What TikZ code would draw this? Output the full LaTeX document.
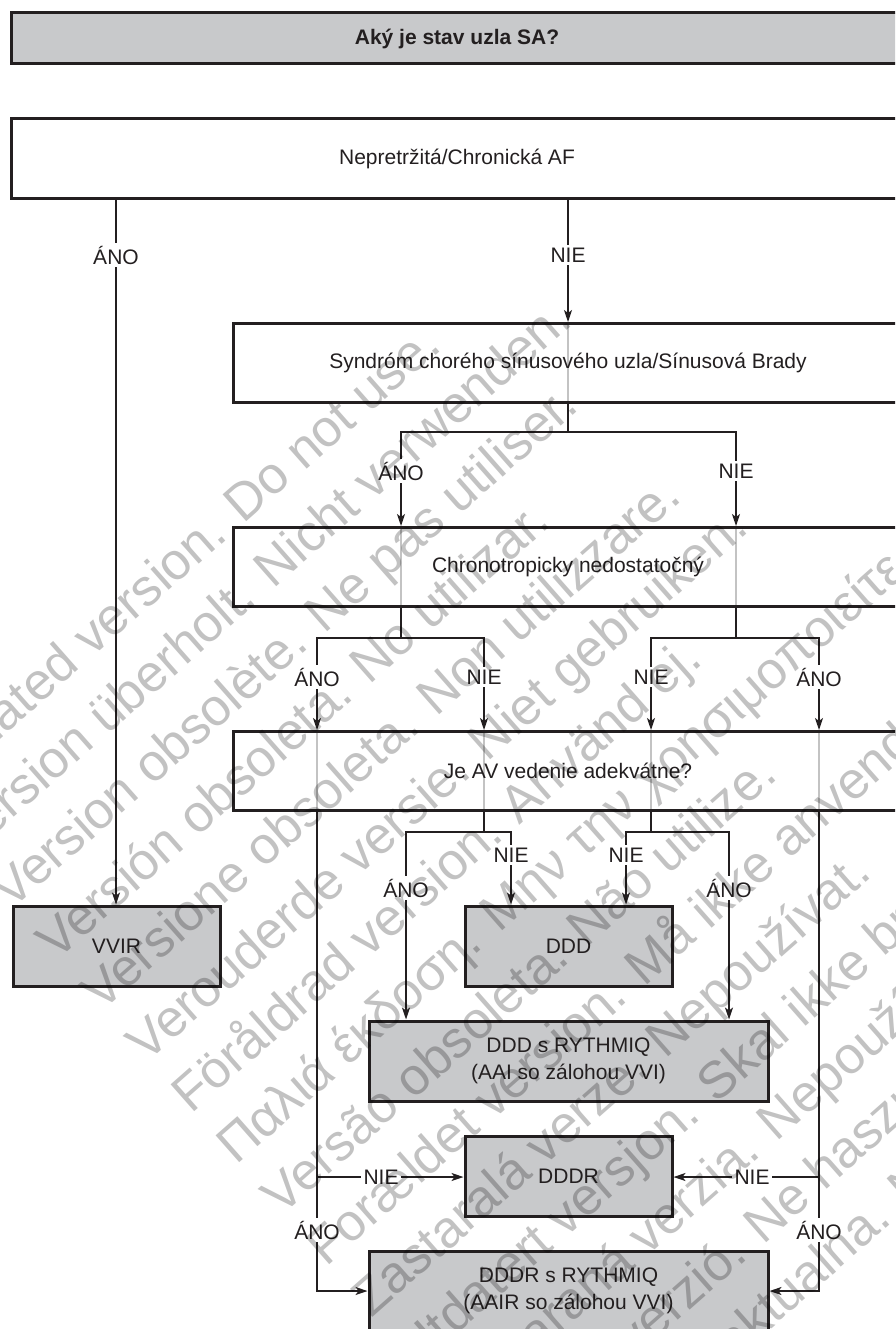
\documentclass[tikz,border=0pt]{standalone}
\usepackage{fontspec}
\setmainfont{Liberation Sans}
\usetikzlibrary{arrows.meta,backgrounds}
\definecolor{boxgray}{RGB}{200,201,203}
\definecolor{ink}{RGB}{35,31,32}
\definecolor{thrugray}{RGB}{195,195,195}
\begin{document}
\begin{tikzpicture}[x=1pt,y=-1pt,
  box/.style={draw=ink,line width=3pt,rectangle,inner sep=0pt,font=\fontsize{21}{27}\selectfont,text=ink,align=center},
  graybox/.style={box,fill=boxgray},
  conn/.style={draw=ink,line width=1.3pt},
  arr/.style={conn,-{Stealth[length=12pt,width=8pt,inset=3pt]}},
  lbl/.style={fill=white,inner sep=2.5pt,font=\fontsize{21}{27}\selectfont,text=ink},
  thru/.style={draw=thrugray,line width=1.2pt},
  wmark/.style={rotate=41.4,anchor=base west,inner sep=0pt,text=black,text opacity=0.24,font=\fontsize{52}{68}\selectfont}]
\useasboundingbox (0,0) rectangle (895,1329);
\clip (0,0) rectangle (895,1329);

% boxes
\node[graybox,minimum width=891pt,minimum height=51pt,font=\fontsize{21}{27}\selectfont\bfseries] (top) at (457,38.5) {Aký je stav uzla SA?};
\node[box,minimum width=891pt,minimum height=80pt] (af) at (457,159) {Nepretržitá/Chronická AF};
\node[box,minimum width=670pt,minimum height=79pt] (syn) at (568,363) {Syndróm chorého sínusového uzla/Sínusová Brady};
\node[box,minimum width=670pt,minimum height=79pt] (chr) at (568,567) {Chronotropicky nedostatočný};
\node[box,minimum width=670pt,minimum height=79pt] (jeav) at (568,771) {Je AV vedenie adekvátne?};
\node[graybox,minimum width=207pt,minimum height=80pt] (vvir) at (116.5,946) {VVIR};
\node[graybox,minimum width=207pt,minimum height=80pt] (ddd) at (568.5,946) {DDD};
\node[graybox,minimum width=399pt,minimum height=80pt] (ddds) at (568.5,1061) {DDD s RYTHMIQ\\(AAI so zálohou VVI)};
\node[graybox,minimum width=207pt,minimum height=80pt] (dddr) at (568.5,1176) {DDDR};
\node[graybox,minimum width=399pt,minimum height=80pt] (dddrs) at (568.5,1291) {DDDR s RYTHMIQ\\(AAIR so zálohou VVI)};

% junction coordinates
\coordinate (j1) at (568,432);
\coordinate (c1) at (401,432);
\coordinate (c2) at (736,432);
\coordinate (j2) at (401,638);
\coordinate (c3) at (317,638);
\coordinate (c4) at (484,638);
\coordinate (j3) at (736,638);
\coordinate (c5) at (651,638);
\coordinate (c6) at (819,638);
\coordinate (j4) at (484,832);
\coordinate (c7) at (406,832);
\coordinate (c8) at (511,832);
\coordinate (j5) at (651,832);
\coordinate (c9) at (626,832);
\coordinate (c10) at (729,832);
\coordinate (c11) at (317,1291);
\coordinate (c12) at (317,1177);
\coordinate (c13) at (819,1291);
\coordinate (c14) at (819,1177);

% lines seen through the white boxes
\begin{scope}[on background layer]
\draw[thru] (syn.north) -- (syn.south);
\draw[thru] (c1 |- chr.north) -- (c1 |- chr.south);
\draw[thru] (c2 |- chr.north) -- (c2 |- chr.south);
\draw[thru] (c3 |- jeav.north) -- (c3 |- jeav.south);
\draw[thru] (c4 |- jeav.north) -- (c4 |- jeav.south);
\draw[thru] (c5 |- jeav.north) -- (c5 |- jeav.south);
\draw[thru] (c6 |- jeav.north) -- (c6 |- jeav.south);
\end{scope}

% connectors
\draw[arr] (116,0 |- af.south) -- (116,0 |- vvir.north);
\draw[arr] (syn.north |- af.south) -- (syn.north);

\draw[conn] (syn.south) -- (j1);
\draw[arr] (j1) -- (c1) -- (c1 |- chr.north);
\draw[arr] (j1) -- (c2) -- (c2 |- chr.north);

\draw[conn] (c1 |- chr.south) -- (j2);
\draw[arr] (j2) -- (c3) -- (c3 |- jeav.north);
\draw[arr] (j2) -- (c4) -- (c4 |- jeav.north);
\draw[conn] (c2 |- chr.south) -- (j3);
\draw[arr] (j3) -- (c5) -- (c5 |- jeav.north);
\draw[arr] (j3) -- (c6) -- (c6 |- jeav.north);

\draw[conn] (c4 |- jeav.south) -- (j4);
\draw[arr] (j4) -- (c7) -- (c7 |- ddds.north);
\draw[arr] (j4) -- (c8) -- (c8 |- ddd.north);
\draw[conn] (c5 |- jeav.south) -- (j5);
\draw[arr] (j5) -- (c9) -- (c9 |- ddd.north);
\draw[arr] (j5) -- (c10) -- (c10 |- ddds.north);

\draw[arr] (c3 |- jeav.south) -- (c11) -- (dddrs.west);
\draw[arr] (c12) -- (c12 -| dddr.west);
\draw[arr] (c6 |- jeav.south) -- (c13) -- (dddrs.east);
\draw[arr] (c14) -- (c14 -| dddr.east);

% labels
\node[lbl] (l1) at (116,255) {ÁNO};
\node[lbl] (l2) at (568,255) {NIE};
\node[lbl] (l3) at (401,471) {ÁNO};
\node[lbl] (l4) at (736,471) {NIE};
\node[lbl] (l5) at (317,677) {ÁNO};
\node[lbl] (l6) at (484,677) {NIE};
\node[lbl] (l7) at (651,677) {NIE};
\node[lbl] (l8) at (819,677) {ÁNO};
\node[lbl] (l9) at (511,855) {NIE};
\node[lbl] (l10) at (626,855) {NIE};
\node[lbl] (l11) at (406,888) {ÁNO};
\node[lbl] (l12) at (729,888) {ÁNO};
\node[lbl] (l13) at (381,1177) {NIE};
\node[lbl] (l14) at (752,1177) {NIE};
\node[lbl] (l15) at (317,1230) {ÁNO};
\node[lbl] (l16) at (819,1230) {ÁNO};

% watermark
\foreach \t [count=\i] in {
  Outdated version. Do not use.,
  Version überholt. Nicht verwenden.,
  Version obsolète. Ne pas utiliser.,
  Versión obsoleta. No utilizar.,
  Versione obsoleta. Non utilizzare.,
  Verouderde versie. Niet gebruiken.,
  Föråldrad version. Använd ej.,
  Παλιά έκδοση. Μην την χρησιμοποιείτε.,
  Versão obsoleta. Não utilize.,
  Forældet version. Må ikke anvendes.,
  Zastaralá verze. Nepoužívat.,
  Utdatert versjon. Skal ikke brukes.,
  Zastaraná verzia. Nepoužívať.,
  Elavult verzió. Ne használja!,
  Wersja nieaktualna. Nie używać.}
  \node[wmark] (w\i) at ({-79+45*(\i-1)},{809+51*(\i-1)}) {\t};
\end{tikzpicture}
\end{document}
